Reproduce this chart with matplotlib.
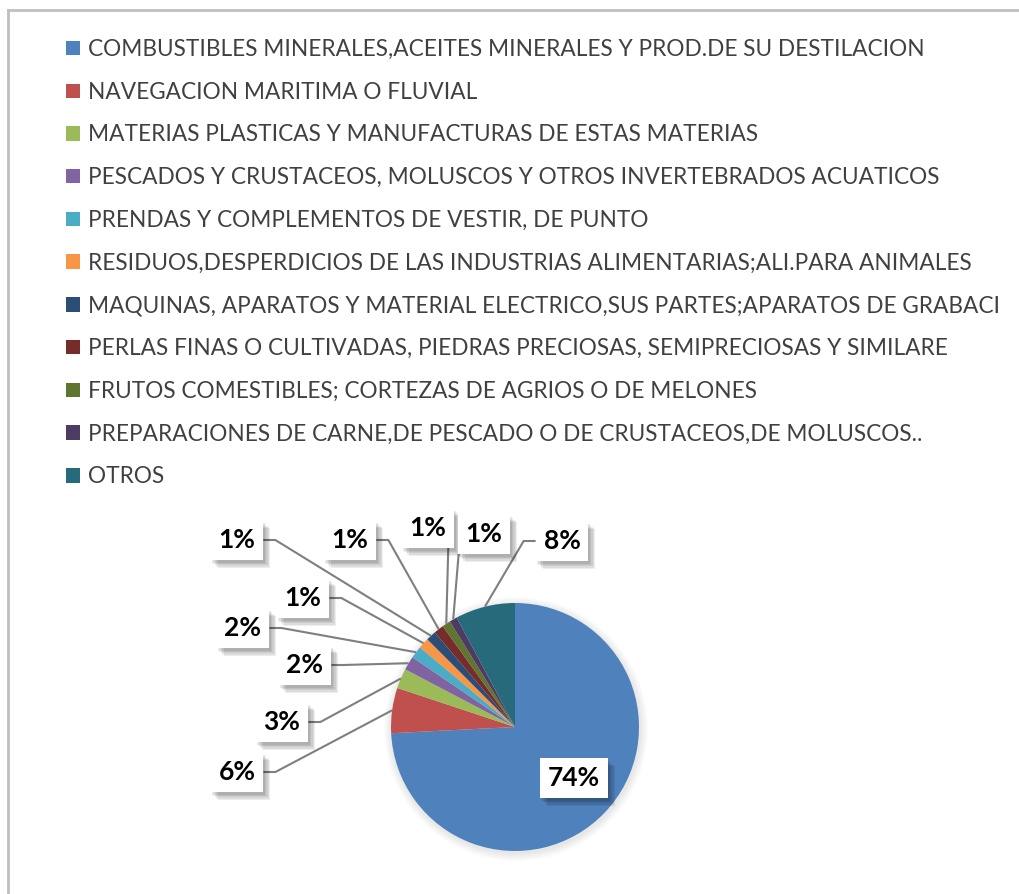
import matplotlib
matplotlib.use("Agg")
import matplotlib.pyplot as plt
import matplotlib.patheffects as pe
from matplotlib.lines import Line2D
import numpy as np

plt.rcParams['font.family'] = ['Lato', 'DejaVu Sans']

# Participación por capítulo arancelario (%)
categorias = [
    "COMBUSTIBLES MINERALES,ACEITES MINERALES Y PROD.DE SU DESTILACION",
    "NAVEGACION MARITIMA O FLUVIAL",
    "MATERIAS PLASTICAS Y MANUFACTURAS DE ESTAS MATERIAS",
    "PESCADOS Y CRUSTACEOS, MOLUSCOS Y OTROS INVERTEBRADOS ACUATICOS",
    "PRENDAS Y COMPLEMENTOS DE VESTIR, DE PUNTO",
    "RESIDUOS,DESPERDICIOS DE LAS INDUSTRIAS ALIMENTARIAS;ALI.PARA ANIMALES",
    "MAQUINAS, APARATOS Y MATERIAL ELECTRICO,SUS PARTES;APARATOS DE GRABACI",
    "PERLAS FINAS O CULTIVADAS, PIEDRAS PRECIOSAS, SEMIPRECIOSAS Y SIMILARE",
    "FRUTOS COMESTIBLES; CORTEZAS DE AGRIOS O DE MELONES",
    "PREPARACIONES DE CARNE,DE PESCADO O DE CRUSTACEOS,DE MOLUSCOS..",
    "OTROS",
]
valores = [74.2, 5.9, 2.6, 1.8, 1.6, 1.4, 1.3, 1.3, 1.1, 1.0, 7.8]
colores = ["#4F81BD", "#C0504D", "#9BBB59", "#8064A2", "#4BACC6", "#F79646",
           "#2C4D75", "#772C2A", "#5F7530", "#4D3B62", "#276A7C"]

# posicion de cada etiqueta (px desde arriba-izquierda) y lado donde sale la guia
etiqueta_pos = [(574, 778), (237, 772), (282, 722), (305, 665), (243, 628),
                (303, 598), (237, 540), (350, 540), (428, 528), (484, 534),
                (562, 541)]
etiqueta_lado = [None, "right", "right", "right", "right", "right",
                 "right", "right", "bottom", "bottom", "left"]

W, H = 1020, 894
fig = plt.figure(figsize=(W / 100, H / 100), dpi=100)
ax = fig.add_axes([0, 0, 1, 1])

cx, cy, r = 515, H - 727, 124

# sombra suave del pastel
for k in range(8, 0, -1):
    ax.add_patch(plt.Circle((cx + 1, cy - 2), r + k, color="#000000",
                            alpha=0.012, lw=0, zorder=1))

wedges, _ = ax.pie(valores, colors=colores, startangle=90, counterclock=False,
                   center=(cx, cy), radius=r, frame=True,
                   wedgeprops=dict(linewidth=0, zorder=2))
ax.set_xlim(0, W)
ax.set_ylim(0, H)
ax.set_aspect("equal")
ax.axis("off")

sombra = [pe.withSimplePatchShadow(offset=(d, -d - 1), shadow_rgbFace="#000000",
                                   alpha=0.07) for d in (5, 4, 3, 2, 1)]

textos = []
for val, (lx, ly) in zip(valores, etiqueta_pos):
    txt = ax.text(lx, H - ly, f"{round(val):.0f}%", ha="center", va="center",
                  fontsize=19, fontweight="bold", color="black", zorder=6,
                  bbox=dict(boxstyle="square,pad=0.3", fc="white", ec="none"))
    txt.get_bbox_patch().set_path_effects(sombra + [pe.Normal()])
    textos.append(txt)

fig.canvas.draw()
renderer = fig.canvas.get_renderer()

# lineas guia: del borde de la caja hasta el centro del arco de cada sector
for w, txt, lado in zip(wedges, textos, etiqueta_lado):
    if lado is None:
        continue
    bb = txt.get_bbox_patch().get_window_extent(renderer)
    lx, ly = txt.get_position()
    ang = np.deg2rad((w.theta1 + w.theta2) / 2)
    ex, ey = cx + r * np.cos(ang), cy + r * np.sin(ang)
    if lado == "right":
        xs, ys = [bb.x1, bb.x1 + 12, ex], [ly, ly, ey]
    elif lado == "left":
        xs, ys = [bb.x0, bb.x0 - 12, ex], [ly, ly, ey]
    else:
        sx = min(max(ex + 2, bb.x0 + 1), bb.x1 - 1)
        xs, ys = [sx, ex], [bb.y0, ey]
    ax.plot(xs, ys, color="#7F7F7F", lw=1.5, zorder=4, solid_capstyle="butt")

leg = fig.legend(wedges, categorias, loc="upper left",
                 bbox_to_anchor=(66 / W, 1 - 39 / H), frameon=False,
                 fontsize=16.3, labelcolor="#404040", handlelength=0.6,
                 handleheight=0.6, handletextpad=0.35, labelspacing=0.96,
                 borderaxespad=0, borderpad=0)

# marco del area del grafico
fig.add_artist(Line2D([8.5 / W, 8.5 / W], [0, 1 - 9.5 / H], color="#BFBFBF",
                      lw=2, transform=fig.transFigure))
fig.add_artist(Line2D([8.5 / W, 1], [1 - 9.5 / H, 1 - 9.5 / H], color="#BFBFBF",
                      lw=2, transform=fig.transFigure))

fig.savefig("out.png", dpi=100, facecolor="white")
